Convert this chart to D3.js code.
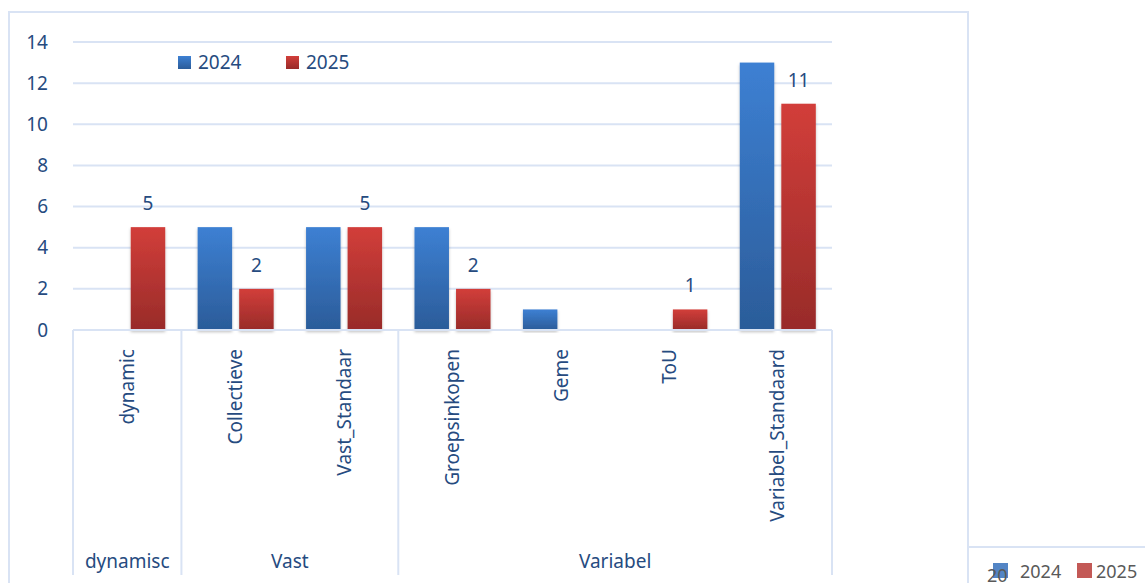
<!DOCTYPE html>
<html>
<head>
<meta charset="utf-8">
<script src="https://cdn.jsdelivr.net/npm/d3@7"></script>
<style>
  body { margin: 0; background: #fff; }
  svg text { font-family: "Noto Sans", "Lato", sans-serif; fill: #264b7f; }
</style>
</head>
<body>
<div id="chart"></div>
<script>
// chart data
const categories = ['dynamic', 'Collectieve', 'Vast_Standaar', 'Groepsinkopen', 'Geme', 'ToU', 'Variabel_Standaard'];
const groups = ['dynamisc', 'Vast', 'Variabel'];
const groupSizes = [1, 2, 4];
const seriesNames = ['2024', '2025'];
const values2024 = [null, 5, 5, 5, 1, null, 13];
const values2025 = [5, 2, 5, 2, null, 1, 11];
const yTicks = [0, 2, 4, 6, 8, 10, 12, 14];

const W = 1145, H = 583;
const plot = { left: 73, right: 832, top: 42, bottom: 330 };
const axisBottom = 575;
const lineColor = '#d9e3f4';

const svg = d3.select('#chart').append('svg')
  .attr('width', W)
  .attr('height', H);

const defs = svg.append('defs');
// vertical gradients for bars
function addGradient(id, top, bottom) {
  const g = defs.append('linearGradient')
    .attr('id', id)
    .attr('x1', 0).attr('y1', 0).attr('x2', 0).attr('y2', 1);
  g.append('stop').attr('offset', '0%').attr('stop-color', top);
  g.append('stop').attr('offset', '100%').attr('stop-color', bottom);
}
addGradient('grad2024', '#3d80d3', '#2b5c99');
addGradient('grad2025', '#d23e3a', '#982b29');
const fills = { '2024': 'url(#grad2024)', '2025': 'url(#grad2025)' };

defs.append('filter').attr('id', 'shadow')
  .attr('x', '-20%').attr('y', '-5%').attr('width', '140%').attr('height', '115%')
  .append('feDropShadow')
  .attr('dx', 0).attr('dy', 2).attr('stdDeviation', 1.5)
  .attr('flood-color', '#000').attr('flood-opacity', 0.25);

// outer chart frame
svg.append('rect')
  .attr('x', 9).attr('y', 12)
  .attr('width', 959).attr('height', 600)
  .attr('fill', 'none')
  .attr('stroke', lineColor)
  .attr('stroke-width', 2);

// scales
const x = d3.scaleBand()
  .domain(categories)
  .range([plot.left, plot.right])
  .padding(0);

const x1 = d3.scaleBand()
  .domain(seriesNames)
  .range([0, x.bandwidth()])
  .paddingInner(0.17)
  .paddingOuter(0.39);

const y = d3.scaleLinear()
  .domain([0, 14])
  .range([plot.bottom, plot.top]);

// gridlines
svg.append('g')
  .selectAll('line')
  .data(yTicks.filter(d => d > 0))
  .enter().append('line')
  .attr('x1', plot.left)
  .attr('x2', plot.right)
  .attr('y1', d => y(d))
  .attr('y2', d => y(d))
  .attr('stroke', lineColor)
  .attr('stroke-width', 2);

// y axis labels
const yAxis = svg.append('g')
  .attr('transform', 'translate(48,0)')
  .call(d3.axisLeft(y).tickValues(yTicks).tickSize(0).tickPadding(0));
yAxis.select('.domain').remove();
yAxis.selectAll('text')
  .attr('x', 0)
  .style('font-size', '19px')
  .style('font-family', '"Noto Sans", sans-serif')
  .attr('fill', '#264b7f');

// bars
const rows = categories.map((c, i) => ({
  cat: c,
  vals: [
    { s: '2024', v: values2024[i] },
    { s: '2025', v: values2025[i] }
  ]
}));

const barGroups = svg.append('g')
  .selectAll('g')
  .data(rows)
  .enter().append('g')
  .attr('transform', d => `translate(${x(d.cat)},0)`);

barGroups.selectAll('rect')
  .data(d => d.vals.filter(p => p.v != null))
  .enter().append('rect')
  .attr('x', p => x1(p.s))
  .attr('width', x1.bandwidth())
  .attr('y', p => y(p.v))
  .attr('height', p => y(0) - y(p.v))
  .attr('fill', p => fills[p.s])
  .attr('filter', 'url(#shadow)');

// data labels, only the 2025 series has them
barGroups.selectAll('text.lbl')
  .data(d => d.vals.filter(p => p.s === '2025' && p.v != null))
  .enter().append('text')
  .attr('class', 'lbl')
  .attr('x', p => x1(p.s) + x1.bandwidth() / 2)
  .attr('y', p => y(p.v) - 17)
  .attr('text-anchor', 'middle')
  .style('font-size', '19px')
  .text(p => p.v);

// category axis: top line and group separators
svg.append('line')
  .attr('x1', plot.left).attr('x2', plot.right)
  .attr('y1', plot.bottom).attr('y2', plot.bottom)
  .attr('stroke', lineColor).attr('stroke-width', 2);

const groupStarts = [];
let acc = 0;
groupSizes.forEach(n => { groupStarts.push(acc); acc += n; });
const groupBounds = groups.map((g, i) => {
  const first = categories[groupStarts[i]];
  const last = categories[groupStarts[i] + groupSizes[i] - 1];
  return { name: g, x0: x(first), x1: x(last) + x.bandwidth() };
});

const sepXs = [plot.left].concat(groupBounds.map(g => g.x1));
svg.append('g')
  .selectAll('line')
  .data(sepXs)
  .enter().append('line')
  .attr('x1', d => d).attr('x2', d => d)
  .attr('y1', plot.bottom).attr('y2', axisBottom)
  .attr('stroke', lineColor).attr('stroke-width', 2);

// rotated category labels
svg.append('g')
  .selectAll('text')
  .data(categories)
  .enter().append('text')
  .attr('transform', d => `translate(${x(d) + x.bandwidth() / 2},349) rotate(-90)`)
  .attr('text-anchor', 'end')
  .attr('dy', '0.35em')
  .style('font-size', '19px')
  .text(d => d);

// group labels
svg.append('g')
  .selectAll('text')
  .data(groupBounds)
  .enter().append('text')
  .attr('x', d => (d.x0 + d.x1) / 2)
  .attr('y', 568)
  .attr('text-anchor', 'middle')
  .style('font-size', '19px')
  .text(d => d.name);

// legend
const legend = svg.append('g')
  .selectAll('g')
  .data(seriesNames)
  .enter().append('g')
  .attr('transform', (d, i) => `translate(${178 + i * 108},56)`);
legend.append('rect')
  .attr('width', 13).attr('height', 13)
  .attr('fill', d => fills[d]);
legend.append('text')
  .attr('x', 20).attr('y', 13)
  .style('font-size', '19px')
  .text(d => d);

// the corner of a neighbouring chart, cut off at the bottom right
svg.append('line')
  .attr('x1', 968).attr('x2', W)
  .attr('y1', 547).attr('y2', 547)
  .attr('stroke', lineColor).attr('stroke-width', 2);

const corner = svg.append('g');
const cornerLegend = corner.selectAll('g')
  .data(seriesNames)
  .enter().append('g')
  .attr('transform', (d, i) => `translate(${993 + i * 84},563)`);
cornerLegend.append('rect')
  .attr('width', 15).attr('height', 15)
  .attr('fill', (d, i) => i === 0 ? '#4a7ec2' : '#c0504d')
  .attr('opacity', 0.95);
cornerLegend.append('text')
  .attr('x', (d, i) => i === 0 ? 27 : 19)
  .attr('y', 15)
  .style('font-size', '18px')
  .style('fill', '#595959')
  .text(d => d);
// stray axis label of that chart, drawn over its legend key
corner.append('text')
  .attr('x', 987).attr('y', 582)
  .style('font-size', '18px')
  .style('fill', '#595959')
  .text('20');
</script>
</body>
</html>
